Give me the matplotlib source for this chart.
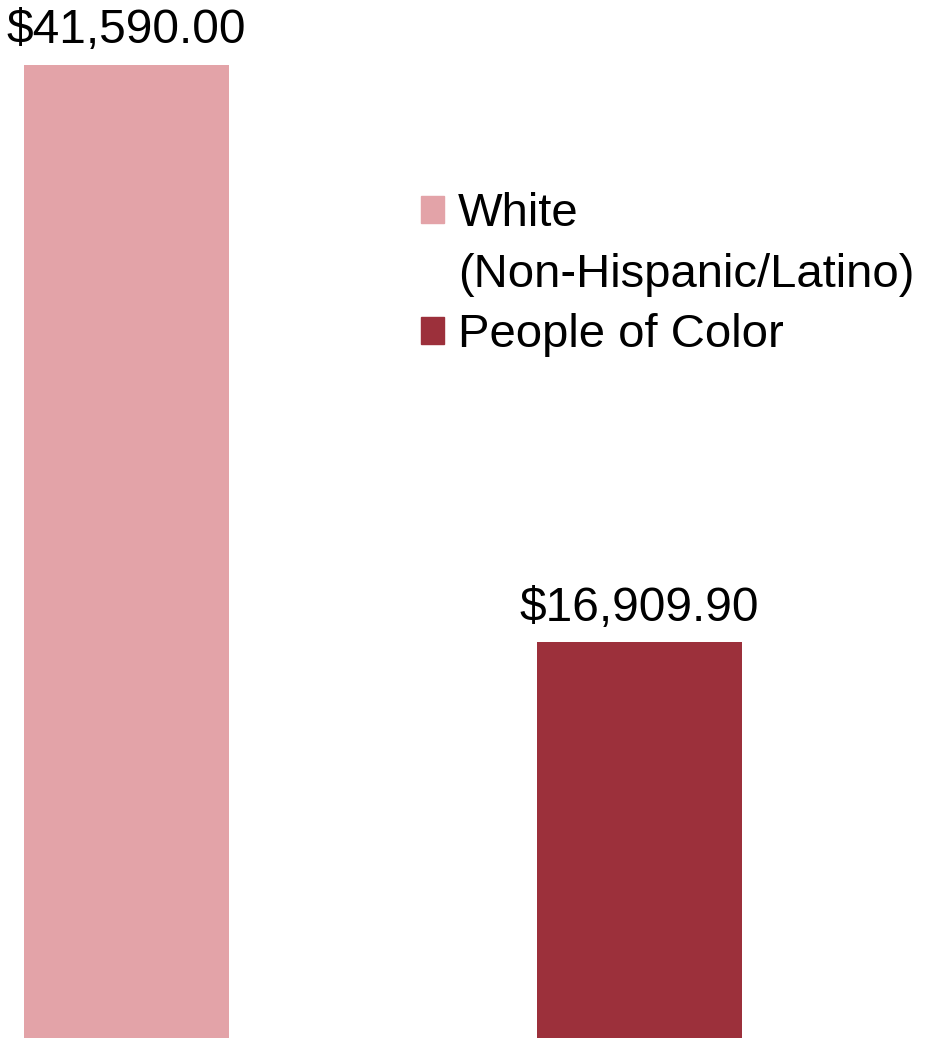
import matplotlib.pyplot as plt
from matplotlib.patches import Patch

plt.rcParams['font.family'] = ['Liberation Sans', 'DejaVu Sans']

groups = ['White (Non-Hispanic/Latino)', 'People of Color']
values = [41590.00, 16909.90]
value_labels = ['$41,590.00', '$16,909.90']
colors = ['#E3A3A8', '#9C303B']

fig = plt.figure(figsize=(9.25, 10.38), dpi=100)
ax = fig.add_axes([0, 0, 1, 1])

bars = ax.bar(range(len(values)), values, width=0.4, color=colors)
for bar, txt in zip(bars, value_labels):
    ax.annotate(txt, (bar.get_x() + bar.get_width() / 2, bar.get_height()),
                xytext=(0, 8.5), textcoords='offset points',
                ha='center', va='bottom', fontsize=34.5)

ax.set_xlim(-0.2468, 1.558)
ax.set_ylim(0, 44370)
ax.axis('off')

# legend: first label split over two lines, square only on the first
handles = [Patch(color=colors[0]), Patch(facecolor='none', edgecolor='none'),
           Patch(color=colors[1])]
labels = ['White', '(Non-Hispanic/Latino)', 'People of Color']
ax.legend(handles, labels, loc='upper left', bbox_to_anchor=(0.455, 0.815),
          frameon=False, fontsize=34, handlelength=0.5, handleheight=0.5,
          handletextpad=0.28, labelspacing=0.35, borderpad=0, borderaxespad=0)

plt.savefig('out.png', dpi=100)
